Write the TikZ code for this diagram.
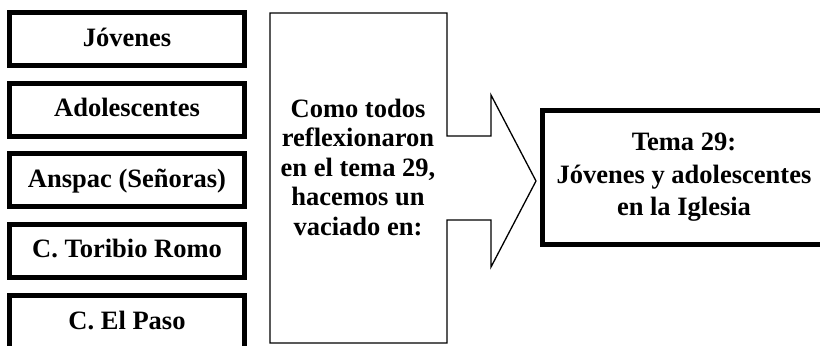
\documentclass[tikz,border=0pt]{standalone}
\usepackage{fontspec}
\setmainfont{Liberation Serif}
\usetikzlibrary{positioning}

\begin{document}
\begin{tikzpicture}
    [
        x=0.5pt, y=-0.5pt, node distance=35.25pt,
        group/.style={draw, line width=2.5pt, minimum width=117.5pt, minimum height=26.5pt, inner sep=0pt, text height=7pt, text depth=0pt, font=\fontsize{13.25}{15}\selectfont\bfseries},
        tema/.style={draw, line width=2.5pt, minimum width=141.5pt, minimum height=67pt, inner sep=0pt, align=center, font=\fontsize{13.25}{16.25}\selectfont\bfseries},
        note/.style={align=center, inner sep=0pt, font=\fontsize{13.25}{14.75}\selectfont\bfseries}
    ]
    \tikzstyle{outline} = [draw, line width=0.65pt, line join=miter]
    \useasboundingbox (0,0) rectangle (820,345);

    % groups on the left
    \node[group] (jov) at (127,39) {Jóvenes};
    \node[group, below of=jov] (ado) {Adolescentes};
    \node[group, below of=ado] (ansp) {Anspac (Señoras)};
    \node[group, below of=ansp] (tor) {C. Toribio Romo};
    \node[group, below of=tor, yshift=-0.5pt] (paso) {C. El Paso};

    % big arrow in the middle
    \path[outline] (270,13) -- (447,13) -- (447,136) -- (491,136) -- (491,95)
        -- (536,181) -- (491,267) -- (491,220) -- (447,220) -- (447,343)
        -- (270,343) -- cycle;
    \node[note] (vac) at (358,167) {Como todos\\reflexionaron\\en el tema 29,\\hacemos un\\vaciado en:};

    % theme
    \node[tema] (tema) at (684,177.5) {Tema 29:\\Jóvenes y adolescentes\\en la Iglesia};

\end{tikzpicture}
\end{document}
